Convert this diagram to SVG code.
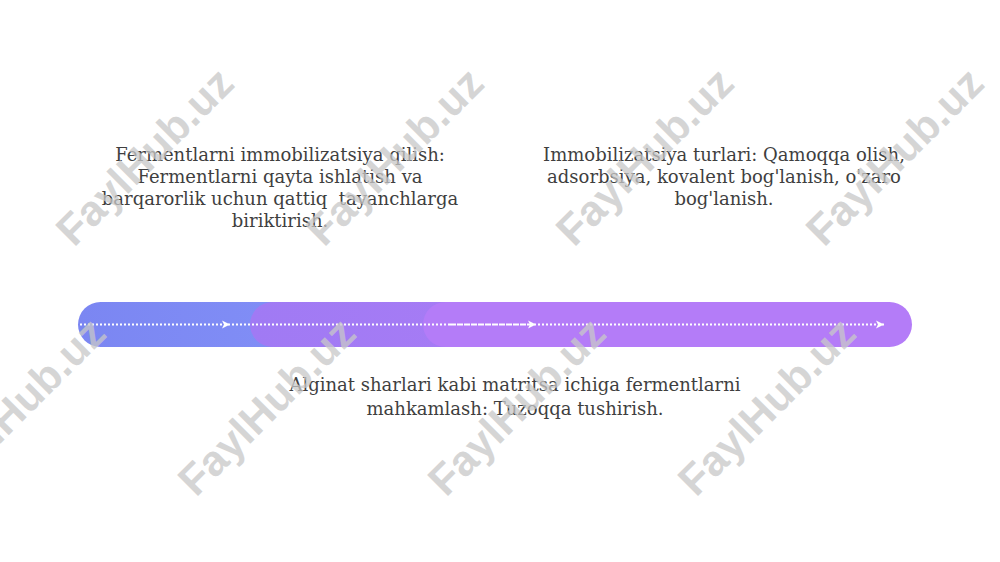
<svg xmlns="http://www.w3.org/2000/svg" width="1000" height="562" viewBox="0 0 1000 562">
<style>
.t{font-family:"DejaVu Serif","Liberation Serif",serif;font-size:18px;fill:#3f3f3f;text-anchor:middle}
.wm{font-family:"Liberation Sans",Arial,sans-serif;font-weight:bold;font-size:43px;fill:#c8c8c8;fill-opacity:0.75;text-anchor:middle}
.dot{stroke:#ffffff;stroke-width:2;stroke-dasharray:2 2;fill:none}
</style>
<defs>
<linearGradient id="g1" x1="0" x2="1" y1="0" y2="0"><stop offset="0" stop-color="#7b86f2"/><stop offset="1" stop-color="#8290f7"/></linearGradient>
<linearGradient id="g2" x1="0" x2="1" y1="0" y2="0"><stop offset="0" stop-color="#a07af4"/><stop offset="1" stop-color="#a77cf5"/></linearGradient>
<marker id="ah" viewBox="0 0 10 10" refX="9" refY="5" markerWidth="10" markerHeight="10" markerUnits="userSpaceOnUse" orient="auto"><path d="M1,1 L9,5 L1,9 L3,5 Z" fill="#ffffff"/></marker>
</defs>
<rect width="1000" height="562" fill="#ffffff"/>
<g id="bar">
<rect x="78" y="302" width="260" height="45" rx="22.5" fill="url(#g1)"/>
<rect x="250" y="302" width="260" height="45" rx="22.5" fill="url(#g2)"/>
<rect x="423" y="302" width="489" height="45" rx="22.5" fill="#b47cf8"/>
</g>
<g id="connectors">
<line class="dot" x1="80" y1="324.5" x2="230" y2="324.5" marker-end="url(#ah)"/>
<line class="dot" x1="232" y1="324.5" x2="450" y2="324.5"/>
<line x1="450" y1="324.5" x2="536" y2="324.5" stroke="#ffffff" stroke-width="2" stroke-dasharray="6 1" marker-end="url(#ah)"/>
<line class="dot" x1="538" y1="324.5" x2="884" y2="324.5" marker-end="url(#ah)"/>
</g>
<g id="node1">
<text class="t" x="280" y="161">Fermentlarni immobilizatsiya qilish:</text>
<text class="t" x="280" y="183">Fermentlarni qayta ishlatish va</text>
<text class="t" x="280" y="205" xml:space="preserve">barqarorlik uchun qattiq  tayanchlarga</text>
<text class="t" x="280" y="227">biriktirish.</text>
</g>
<g id="node2">
<text class="t" x="724" y="161">Immobilizatsiya turlari: Qamoqqa olish,</text>
<text class="t" x="724" y="183">adsorbsiya, kovalent bog'lanish, o'zaro</text>
<text class="t" x="724" y="205">bog'lanish.</text>
</g>
<g id="node3">
<text class="t" x="515" y="391">Alginat sharlari kabi matritsa ichiga fermentlarni</text>
<text class="t" x="515" y="415">mahkamlash: Tuzoqqa tushirish.</text>
</g>
<g id="watermarks">
<text class="wm" transform="translate(155,167) rotate(-45)">FaylHub.uz</text>
<text class="wm" transform="translate(405,167) rotate(-45)">FaylHub.uz</text>
<text class="wm" transform="translate(655,167) rotate(-45)">FaylHub.uz</text>
<text class="wm" transform="translate(905,167) rotate(-45)">FaylHub.uz</text>
<text class="wm" transform="translate(27,417) rotate(-45)">FaylHub.uz</text>
<text class="wm" transform="translate(277,417) rotate(-45)">FaylHub.uz</text>
<text class="wm" transform="translate(527,417) rotate(-45)">FaylHub.uz</text>
<text class="wm" transform="translate(777,417) rotate(-45)">FaylHub.uz</text>
</g>
</svg>
